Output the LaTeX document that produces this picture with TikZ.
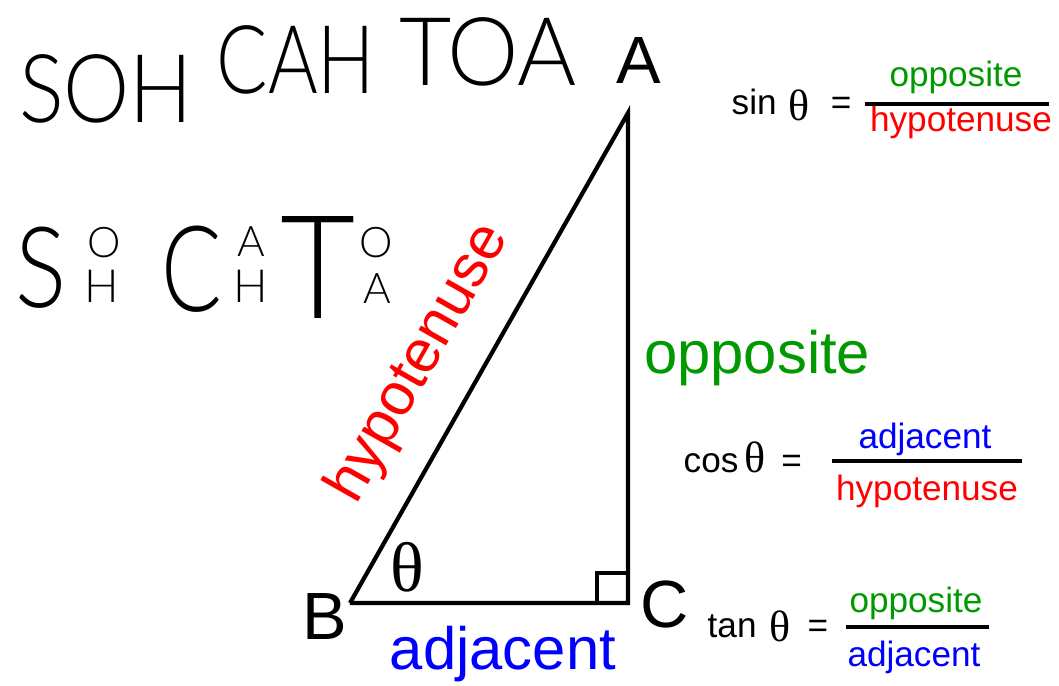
\documentclass[tikz,border=0pt]{standalone}
\usepackage{fontspec}
\setmainfont{Liberation Sans}
\IfFontExistsTF{Lato Light}{\newfontfamily\handfont{Lato Light}}{%
  \newfontfamily\handfont{Fira Sans}}
\newfontfamily\thetafont{Liberation Serif}
\usepackage{xcolor}
\usetikzlibrary{positioning, calc}
\definecolor{oppgreen}{RGB}{0,153,0}
\definecolor{hypred}{RGB}{255,0,0}
\definecolor{adjblue}{RGB}{0,0,255}

\begin{document}
\begin{tikzpicture}[
    x=0.01cm, y=-0.01cm,
    hand/.style={font=\handfont\fontsize{#1}{#1}\selectfont, inner sep=0pt, text depth=0pt},
    hand/.default=27,
    vertex/.style={font=\fontsize{19}{19}\selectfont, inner sep=0pt},
    side/.style={font=\fontsize{17}{17}\selectfont, inner sep=0pt},
    term/.style={font=\fontsize{10}{10}\selectfont, inner sep=0pt, anchor=base},
    bar/.style={line width=0.9pt},
    leg/.style={line width=1.2pt, line join=miter}
]
\useasboundingbox (0,0) rectangle (1059,686);

% mnemonic, handwritten
\node [hand] (soh) at (106,89) {\scalebox{0.88}[1]{SOH}};
\node [hand] (cah) at (296,60) {\scalebox{0.8}[1]{CAH}};
\node [hand] (toa) at (488,52) {\scalebox{0.95}[1]{TOA}};

\node [hand=32] (bigS) at (41,267) {\scalebox{0.85}[1]{S}};
\node [hand=12] (sO) at (104,242) {O};
\node [hand=13] (sH) at (102,286) {H};
\node [hand=34] (bigC) at (192,269) {\scalebox{0.75}[1]{C}};
\node [hand=12] (cA) at (251,242) {A};
\node [hand=13] (cH) at (251,286) {H};
\node [hand=41] (bigT) at (318,268) {\scalebox{0.9}[1]{T}};
\node [hand=12] (tO) at (376,242) {O};
\node [hand=12] (tA) at (377,289) {A};

% triangle
\coordinate (a) at (628,113);
\coordinate (b) at (350,603);
\coordinate (c) at (628,603);

\draw [leg] (b) -- node [pos=0.43, sloped, above=8pt, side, text=hypred] (hyp) {hypotenuse} (a)
    -- node [right=4pt, side, text=oppgreen, anchor=west] (opp) {opposite} (c)
    -- node [pos=0.45, below=6pt, side, text=adjblue] (adj) {adjacent} (b);
\draw [line width=0.9pt] (c) ++(-31,0) -- ++(0,-30) -- ++(31,0);

\node [vertex] (lblA) at (639,61) {A};
\node [vertex] (lblB) at (325,617) {B};
\node [vertex] (lblC) at (665,605) {C};
\node [font=\thetafont\fontsize{20}{20}\selectfont, inner sep=0pt] (theta) at (407,567) {θ};

% sin
\node [term, anchor=base west] (sinlhs) at (731,115)
    {sin\hspace{3.4pt}{\thetafont\fontsize{12.5}{12.5}\selectfont\raisebox{-1.5pt}{θ}}\hspace{6pt}=};
\node [term, text=oppgreen] (sinnum) at (956,87) {opposite};
\node [term, text=hypred] (sinden) at (961,132) {hypotenuse};
\coordinate (sinL) at (865,104);
\coordinate (sinR) at (1049,104);
\draw [bar] (sinL) -- (sinR);

% cos
\node [term, anchor=base west] (coslhs) at (683,473)
    {cos\hspace{1.7pt}{\thetafont\fontsize{12.5}{12.5}\selectfont θ}\hspace{4.5pt}=};
\node [term, text=adjblue] (cosnum) at (925,449) {adjacent};
\node [term, text=hypred] (cosden) at (927,501) {hypotenuse};
\coordinate (cosL) at (832,461);
\coordinate (cosR) at (1022,461);
\draw [bar] (cosL) -- (cosR);

% tan
\node [term, anchor=base west] (tanlhs) at (707,638)
    {tan\hspace{3.7pt}{\thetafont\fontsize{12.5}{12.5}\selectfont\raisebox{-1pt}{θ}}\hspace{4.8pt}=};
\node [term, text=oppgreen] (tannum) at (916,613) {opposite};
\node [term, text=adjblue] (tanden) at (914,667) {adjacent};
\coordinate (tanL) at (846,627);
\coordinate (tanR) at (989,627);
\draw [bar] (tanL) -- (tanR);
\end{tikzpicture}
\end{document}
